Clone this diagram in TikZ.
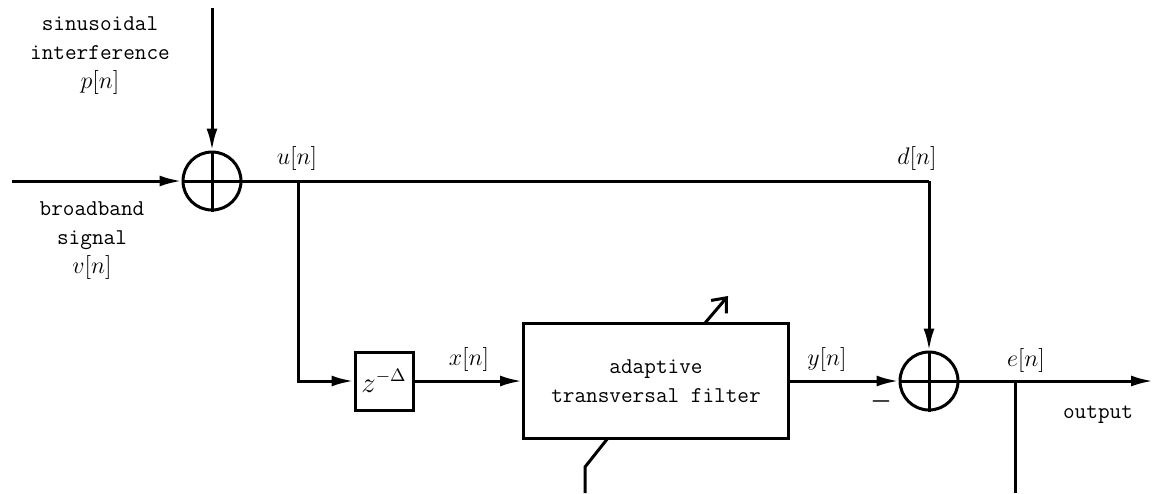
\documentclass[tikz,border=0pt]{standalone}
\usepackage{amsmath}
\usepackage{fontspec}
\usetikzlibrary{arrows.meta}
\usetikzlibrary{calc}

\tikzset{
  sumnode/.style={circle, draw, line width=1.5pt, minimum size=29pt, inner sep=0pt},
  blockbox/.style={rectangle, draw, line width=1.5pt, inner sep=0pt},
  sig/.style={line width=1.5pt},
  sigarrow/.style={line width=1.5pt, -{Latex[length=11pt,width=5.5pt]}},
  lbl/.style={font=\fontsize{11.5}{14}\selectfont},
  txt/.style={font=\fontsize{11.3}{14.5}\selectfont\ttfamily, align=center}
}

\begin{document}
\begin{tikzpicture}[x={(0.5pt,0)},y={(0,-0.5pt)}]
        \useasboundingbox (0,0) rectangle (1154,493);

        \node[sumnode](s1) at (212,181){};
        \node[sumnode](s2) at (929,381){};
        \node[blockbox, minimum width=29pt, minimum height=29pt, font=\fontsize{13.5}{16}\selectfont](dl) at (384,381){$z^{-\Delta}$};
        \node[blockbox, minimum width=132.5pt, minimum height=57.5pt, txt](flt) at (656,381){adaptive\\transversal filter};

        \coordinate (pin) at (212,8);
        \coordinate (vin) at (12,181);
        \coordinate (ubr) at (298,181);
        \coordinate (ucn) at (298,381);
        \coordinate (dcn) at (929,181);
        \coordinate (ebr) at (1015,381);
        \coordinate (ebt) at (1015,493);
        \coordinate (out) at (1153,381);
        \coordinate (adt) at (705,323);
        \coordinate (adh) at (728,296);
        \coordinate (fbk) at (608,438);
        \coordinate (fbm) at (585,467);
        \coordinate (fbt) at (585,493);

        \node[txt](pl) at (100,56){sinusoidal\\interference\\{\fontsize{11.5}{14}\selectfont$p[n]$}};
        \node[txt](vl) at (92,241){broadband\\signal\\{\fontsize{11.5}{14}\selectfont$v[n]$}};
        \node[lbl](un) at (297,158){$u[n]$};
        \node[lbl](dn) at (917,158){$d[n]$};
        \node[lbl](xn) at (469,359){$x[n]$};
        \node[lbl](yn) at (827,359){$y[n]$};
        \node[lbl](en) at (1026,360){$e[n]$};
        \node[txt](outl) at (1098,415){output};
        \node[lbl](mns) at (881,401){$\boldsymbol{-}$};

        \draw[sigarrow] (pin) -- (s1);
        \draw[sigarrow] (vin) -- (s1);
        \draw[sig] (s1.north) -- (s1.south);
        \draw[sig] (s1.west) -- (s1.east);
        \draw[sig] (s2.north) -- (s2.south);
        \draw[sig] (s2.west) -- (s2.east);
        \draw[sig] (s1.east) -- (dcn);
        \draw[sigarrow] (dcn) -- (s2);
        \draw[sigarrow] (ubr) -- (ucn) -- (dl);
        \draw[sigarrow] (dl) -- (flt);
        \draw[sigarrow] (flt) -- (s2);
        \draw[sigarrow] (s2) -- (out);
        \draw[sig] (ebr) -- (ebt);
        \draw[sig] (fbt) -- (fbm) -- (fbk);
        \draw[line width=1.5pt, -{Straight Barb[length=6pt,width=10pt]}] (adt) -- (adh);

      \end{tikzpicture}
\end{document}
